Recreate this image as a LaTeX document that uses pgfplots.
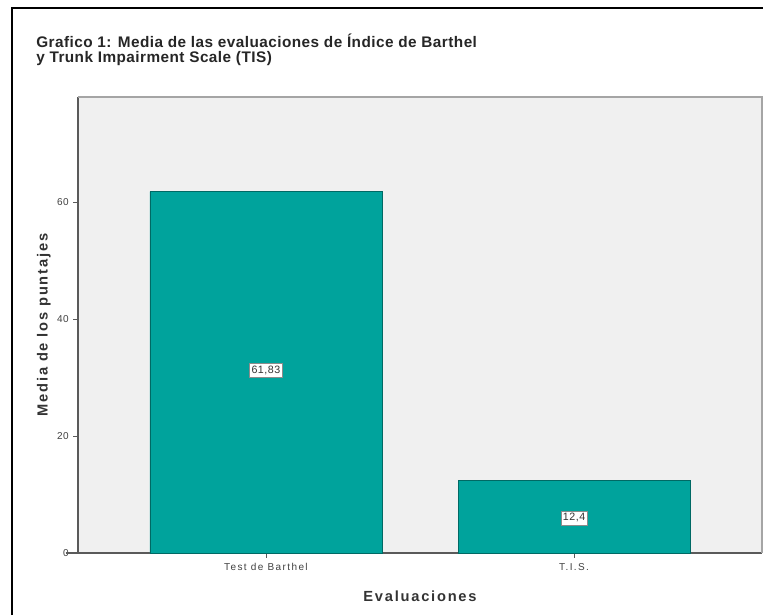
\documentclass[border=0pt]{standalone}
\usepackage{pgfplots}
\pgfplotsset{compat=1.18}
\usepackage{fontspec}
\setmainfont{Liberation Sans}

\definecolor{barteal}{RGB}{0,163,156}
\definecolor{baredge}{RGB}{0,105,100}
\definecolor{plotbg}{RGB}{240,240,240}
\definecolor{axisdark}{RGB}{90,90,90}
\definecolor{boxgray}{RGB}{165,165,165}

\begin{document}
\begin{tikzpicture}
  % page = 763 x 615 px, 1 px = 0.75 pt
  \path[use as bounding box] (0,0) rectangle (572.25pt,461.25pt);
  % outer frame (only left and top edges are visible)
  \draw[black, line width=1.6pt] (9pt,0) -- (9pt,455.25pt) -- (572.25pt,455.25pt);

  \node[anchor=north west, align=left, inner sep=0pt,
        font=\bfseries\fontsize{11.5}{11.6}\selectfont\addfontfeature{LetterSpace=3}, text=black!85]
    at (27pt,436pt) {Grafico 1: Media de las evaluaciones de Índice de Barthel\\y Trunk Impairment Scale (TIS)};

  \begin{axis}[
      at={(58.5pt,46.5pt)}, anchor=south west,
      scale only axis,
      width=513pt, height=342pt,
      xmin=-0.61, xmax=1.61,
      ymin=0, ymax=78,
      xtick={0,1},
      xticklabels={Test de Barthel, T.I.S.},
      ytick={0,20,40,60},
      axis x line*=bottom,
      axis y line*=left,
      axis line style={axisdark, line width=0.8pt, -},
      axis background/.style={fill=plotbg},
      tick align=outside,
      major tick length=3.5pt,
      tick style={axisdark, line width=0.6pt},
      xticklabel style={yshift=-1pt, font=\fontsize{7.5}{8}\selectfont\addfontfeature{LetterSpace=14}, text=black!75},
      yticklabel style={font=\fontsize{7.5}{8}\selectfont\addfontfeature{LetterSpace=4}, text=black!75},
      /pgf/number format/assume math mode=true,
      xlabel={Evaluaciones},
      ylabel={Media de los puntajes},
      xlabel style={font=\bfseries\fontsize{11}{12}\selectfont\addfontfeature{LetterSpace=12}, text=black!80,
        at={(axis description cs:0.5,-0.095)}, anchor=center},
      ylabel style={font=\bfseries\fontsize{11}{12}\selectfont\addfontfeature{LetterSpace=12}, text=black!80,
        at={(axis description cs:-0.05,0.5)}, anchor=center, rotate=0},
      clip=false,
    ]
    % frame of the plot area (top and right edges)
    \draw[boxgray, line width=0.8pt] (rel axis cs:0,1) -- (rel axis cs:1,1) -- (rel axis cs:1,0);
    % x axis line runs a little to the left of the y axis
    \draw[axisdark, line width=0.8pt] (rel axis cs:-0.018,0) -- (rel axis cs:0,0);

    \addplot[ybar, bar width=174pt, fill=barteal, draw=baredge, line width=0.5pt]
      coordinates {(0,61.83) (1,12.4)};

    % value labels in the middle of each bar
    \addplot[only marks, mark=none,
      point meta=explicit,
      nodes near coords,
      every node near coord/.style={anchor=center, fill=white, draw=black!45,
        line width=0.3pt, inner xsep=1.5pt, inner ysep=2pt, text=black!80,
        font=\fontsize{8}{9}\selectfont\addfontfeature{LetterSpace=5}},
      /pgf/number format/.cd, use comma, fixed, precision=2]
      coordinates {(0,31.3) [61.83] (1,6.0) [12.4]};
  \end{axis}
\end{tikzpicture}
\end{document}
